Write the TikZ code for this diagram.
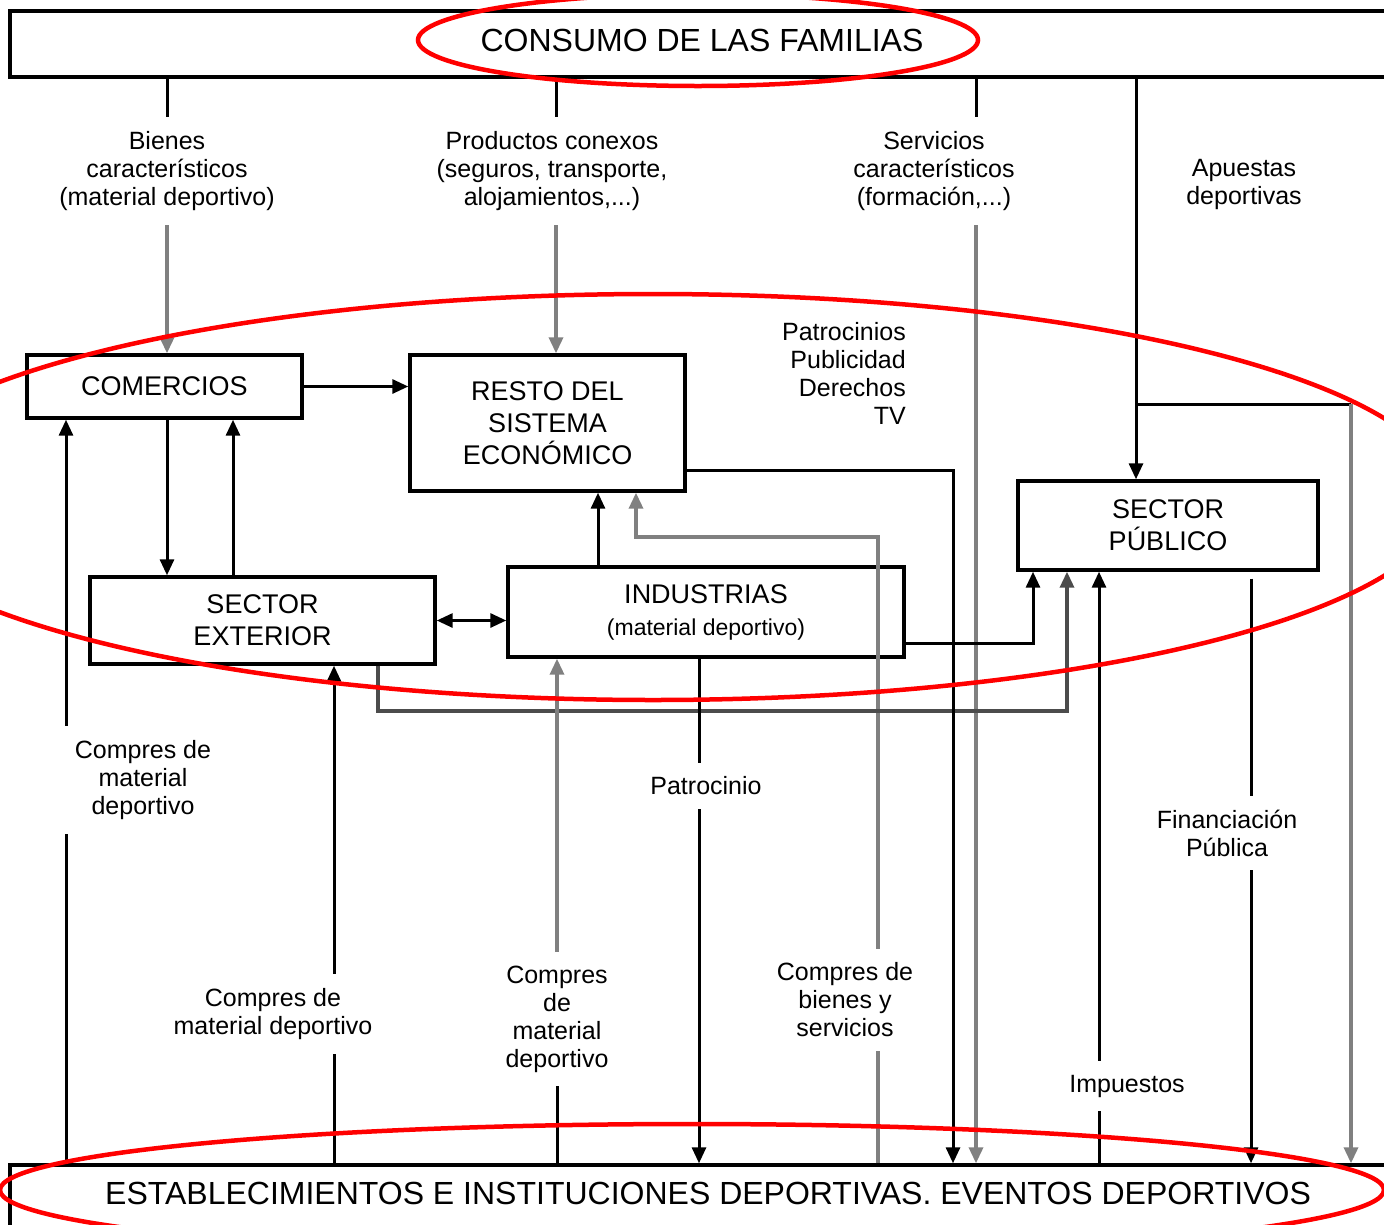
\documentclass[tikz,border=0pt]{standalone}
\usepackage{fontspec}
\setmainfont{Liberation Sans}
\usetikzlibrary{arrows.meta}
\begin{document}
\begin{tikzpicture}[x=1pt,y=-1pt,
  box/.style={draw=black, line width=3.4pt, fill=white, inner sep=0pt, align=center, font=\fontsize{27}{32}\selectfont},
  big/.style={inner sep=0pt, font=\fontsize{32}{36}\selectfont},
  lab/.style={fill=white, inner xsep=12pt, inner ysep=14pt, align=center, font=\fontsize{25}{28}\selectfont},
  blk/.style={draw=black, line width=3pt},
  gry/.style={draw=black!50, line width=3.4pt},
  dgr/.style={draw=black!70, line width=3.4pt},
  tip/.style={-{Triangle[length=16pt,width=14pt]}},
  ring/.style={draw=red, line width=4.5pt},
]
\useasboundingbox (0,0) rectangle (1384,1224);
\fill[white] (0,0) rectangle (1384,1224);
\clip (0,0) rectangle (1384,1224);

% boxes
\node[box, minimum width=1384, minimum height=66] (consumo) at (702,44) {};
\node[big] (consumotxt) at (702,40) {CONSUMO DE LAS FAMILIAS};
\node[box, minimum width=1384, minimum height=85] (estab) at (702,1207.5) {};
\node[big] (estabtxt) at (708,1193) {ESTABLECIMIENTOS E INSTITUCIONES DEPORTIVAS. EVENTOS DEPORTIVOS};
\node[box, minimum width=275, minimum height=63] (comercios) at (164.5,386.5) {COMERCIOS};
\node[box, minimum width=275, minimum height=136] (resto) at (547.5,423) {RESTO DEL\\SISTEMA\\ECONÓMICO};
\node[box, minimum width=345, minimum height=87] (sext) at (262.5,620.5) {SECTOR\\EXTERIOR};
\node[box, minimum width=396, minimum height=90] (ind) at (706,612) {INDUSTRIAS\\{\fontsize{23}{30}\selectfont(material deportivo)}};
\node[box, minimum width=300, minimum height=89] (spub) at (1168,525.5) {SECTOR\\PÚBLICO};

% coordinates
\coordinate (L1) at (167,171);
\coordinate (L2) at (556,171);
\coordinate (L3) at (976,171);
\coordinate (A) at (1136,404);
\coordinate (A2) at (1351,404);
\coordinate (J1) at (878,537);
\coordinate (J2) at (636,537);
\coordinate (K1) at (1033,643);
\coordinate (M1) at (378,711);
\coordinate (M2) at (1067,711);
\coordinate (R1) at (953,470);
\coordinate (Q) at (557,1019);

% top connectors
\draw[blk] (L1 |- consumo.south) -- (L1);
\draw[gry,tip] (L1) -- (L1 |- comercios.north);
\draw[blk] (L2 |- consumo.south) -- (L2);
\draw[gry,tip] (L2) -- (L2 |- resto.north);
\draw[blk] (L3 |- consumo.south) -- (L3);
\draw[gry,tip] (L3) -- (L3 |- estab.north);
\draw[blk,tip] (A |- consumo.south) -- (A |- spub.north);
\draw[blk] (A) -- (A2);
\draw[gry,tip] (A2) -- (A2 |- estab.north);

% middle connectors
\draw[blk,tip] (comercios.east) -- (comercios.east -| resto.west);
\draw[blk,tip] (167,0 |- comercios.south) -- (167,0 |- sext.north);
\draw[blk,tip] (233,0 |- sext.north) -- (233,0 |- comercios.south);
\draw[blk,{Triangle[length=16pt,width=14pt]}-{Triangle[length=16pt,width=14pt]}] (sext.east) -- (sext.east -| ind.west);
\draw[blk,tip] (598,0 |- ind.north) -- (598,0 |- resto.south);
\draw[gry,tip] (J1 |- estab.north) -- (J1) -- (J2) -- (J2 |- resto.south);
\draw[blk,tip] (K1 -| ind.east) -- (K1) -- (K1 |- spub.south);
\draw[dgr,tip] (M1 |- sext.south) -- (M1) -- (M2) -- (M2 |- spub.south);
\draw[blk,tip] (R1 -| resto.east) -- (R1) -- (R1 |- estab.north);

% bottom connectors
\draw[blk,tip] (66,0 |- estab.north) -- (66,0 |- comercios.south);
\draw[blk,tip] (334,0 |- estab.north) -- (334,0 |- sext.south);
\draw[blk] (Q |- estab.north) -- (Q);
\draw[gry,tip] (Q) -- (Q |- ind.south);
\draw[blk,tip] (699,0 |- ind.south) -- (699,0 |- estab.north);
\draw[blk,tip] (1099,0 |- estab.north) -- (1099,0 |- spub.south);
\draw[blk,tip,shorten <=7pt] (1251,0 |- spub.south) -- (1251,0 |- estab.north);

% labels
\node[lab] (lBienes) at (167,171) {Bienes\\característicos\\(material deportivo)};
\node[lab] (lProd) at (552,171) {Productos conexos\\(seguros, transporte,\\alojamientos,...)};
\node[lab] (lServ) at (934,171) {Servicios\\característicos\\(formación,...)};
\node[lab] (lApu) at (1244,184) {Apuestas\\deportivas};
\node[lab, align=right, anchor=east] (lPatr) at (918,373) {Patrocinios\\Publicidad\\Derechos\\TV};
\node[lab, inner xsep=16pt] (lC1) at (143,780) {Compres de\\material\\deportivo};
\node[lab] (lC2) at (273,1014) {Compres de\\material deportivo};
\node[lab] (lC3) at (557,1019) {Compres\\de\\material\\deportivo};
\node[lab] (lPat) at (706,786) {Patrocinio};
\node[lab] (lC4) at (845,1000) {Compres de\\bienes y\\servicios};
\node[lab] (lImp) at (1127,1086) {Impuestos};
\node[lab] (lFin) at (1227,833) {Financiación\\Pública};

% red annotation ellipses
\draw[ring] (698,40) ellipse [x radius=280, y radius=46];
\draw[ring] (653,497) ellipse [x radius=793, y radius=203];
\draw[ring] (692,1190) ellipse [x radius=692, y radius=66];
\end{tikzpicture}
\end{document}
